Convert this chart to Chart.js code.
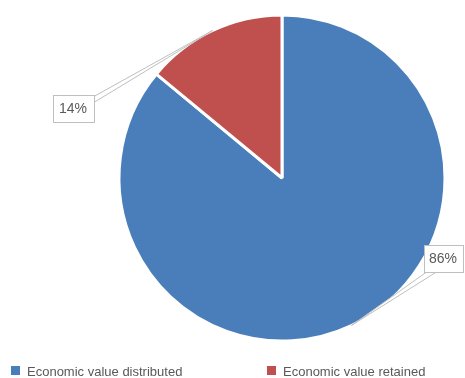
<!DOCTYPE html>
<html>
<head>
<meta charset="utf-8">
<script src="https://cdn.jsdelivr.net/npm/chart.js@4/dist/chart.umd.min.js"></script>
<style>
  html, body { margin: 0; padding: 0; background: #ffffff; }
  #wrap { width: 465px; height: 378px; position: relative; }
</style>
</head>
<body>
<div id="wrap"><canvas id="c" width="465" height="378"></canvas></div>
<script>
const categories = ["Economic value distributed", "Economic value retained"];
const shares = [86, 14];
const sliceColors = ["#4A7EBB", "#C0504D"];
const percentLabels = ["86%", "14%"];

const FONT = '"Liberation Sans", Arial, sans-serif';

const calloutPlugin = {
  id: 'callouts',
  afterDatasetsDraw(chart) {
    const ctx = chart.ctx;
    const meta = chart.getDatasetMeta(0);
    const boxes = [
      { cx: 443, cy: 258, w: 39, h: 27, anchorA: [428, 271], anchorB: [438, 271] },
      { cx: 73, cy: 108, w: 41, h: 27, anchorA: [93, 97], anchorB: [93, 103] }
    ];
    meta.data.forEach((arc, i) => {
      const p = arc.getProps(['x', 'y', 'startAngle', 'endAngle', 'outerRadius'], true);
      const mid = (p.startAngle + p.endAngle) / 2;
      const ex = p.x + Math.cos(mid) * p.outerRadius;
      const ey = p.y + Math.sin(mid) * p.outerRadius;
      const b = boxes[i];
      ctx.save();
      ctx.beginPath();
      ctx.moveTo(b.anchorA[0], b.anchorA[1]);
      ctx.lineTo(ex, ey);
      ctx.lineTo(b.anchorB[0], b.anchorB[1]);
      ctx.closePath();
      ctx.fillStyle = '#ffffff';
      ctx.fill();
      ctx.strokeStyle = '#bfbfbf';
      ctx.lineWidth = 1;
      ctx.stroke();
      const x0 = Math.round(b.cx - b.w / 2) + 0.5;
      const y0 = Math.round(b.cy - b.h / 2) + 0.5;
      ctx.fillStyle = '#ffffff';
      ctx.fillRect(x0, y0, b.w, b.h);
      ctx.strokeStyle = '#bfbfbf';
      ctx.strokeRect(x0, y0, b.w, b.h);
      ctx.fillStyle = '#595959';
      ctx.font = '14px ' + FONT;
      ctx.textAlign = 'center';
      ctx.textBaseline = 'middle';
      ctx.fillText(percentLabels[i], b.cx, b.cy + 1);
      ctx.restore();
    });
  }
};

const legendPlugin = {
  id: 'customLegend',
  afterDraw(chart) {
    const ctx = chart.ctx;
    const items = [{ x: 11 }, { x: 267 }];
    ctx.save();
    ctx.font = '13px ' + FONT;
    ctx.textBaseline = 'alphabetic';
    ctx.textAlign = 'left';
    categories.forEach((label, i) => {
      ctx.fillStyle = sliceColors[i];
      ctx.fillRect(items[i].x, 366, 9, 9);
      ctx.fillStyle = '#595959';
      ctx.fillText(label, items[i].x + 16, 376);
    });
    ctx.restore();
  }
};

new Chart(document.getElementById('c'), {
  type: 'pie',
  data: {
    labels: categories,
    datasets: [{
      data: shares,
      backgroundColor: sliceColors,
      borderColor: '#ffffff',
      borderWidth: 3,
      hoverOffset: 0,
      offset: 0
    }]
  },
  options: {
    responsive: false,
    animation: false,
    events: [],
    radius: 163,
    layout: { padding: { top: 15, bottom: 37, left: 110, right: 11 } },
    plugins: {
      legend: { display: false },
      tooltip: { enabled: false }
    }
  },
  plugins: [calloutPlugin, legendPlugin]
});
</script>
</body>
</html>
